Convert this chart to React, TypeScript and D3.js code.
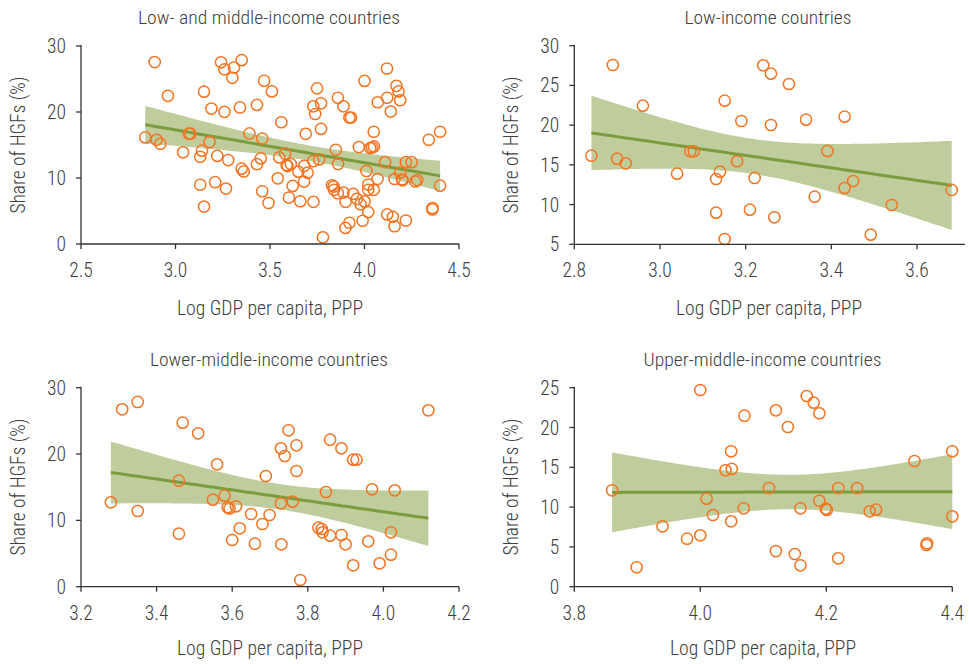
import React from "react";
import * as d3 from "d3";

type Pt = [number, number];

// Low-income countries: [log GDP per capita PPP, share of HGFs %]
const lowIncome: Pt[] = [
  [2.84, 16.15], [2.89, 27.57], [2.9, 15.78], [2.92, 15.19], [2.96, 22.45],
  [3.04, 13.89], [3.071, 16.71], [3.079, 16.71], [3.131, 13.22], [3.14, 14.14],
  [3.131, 8.98], [3.151, 23.08], [3.151, 5.67], [3.18, 15.45], [3.19, 20.52],
  [3.21, 9.36], [3.221, 13.35], [3.241, 27.53], [3.259, 26.48], [3.259, 20.02],
  [3.267, 8.4], [3.301, 25.18], [3.341, 20.69], [3.361, 10.99], [3.391, 16.75],
  [3.431, 21.07], [3.431, 12.09], [3.451, 12.97], [3.492, 6.21], [3.541, 9.95],
  [3.681, 11.84],
];

// Lower-middle-income countries
const lowerMiddle: Pt[] = [
  [3.279, 12.72], [3.309, 26.74], [3.35, 27.85], [3.35, 11.41], [3.459, 15.98],
  [3.459, 7.99], [3.469, 24.73], [3.51, 23.12], [3.56, 18.45], [3.549, 13.12],
  [3.58, 13.72], [3.588, 11.95], [3.593, 11.8], [3.61, 12.12], [3.65, 10.96],
  [3.68, 9.45], [3.699, 10.81], [3.62, 8.8], [3.6, 7.04], [3.66, 6.48],
  [3.689, 16.69], [4.119, 26.59], [3.749, 23.58], [3.729, 20.86], [3.739, 19.7],
  [3.77, 21.32], [3.859, 22.16], [3.889, 20.86], [3.92, 19.15], [3.929, 19.15],
  [3.77, 17.44], [3.848, 14.28], [3.97, 14.68], [4.03, 14.53], [3.729, 12.57],
  [3.76, 12.82], [3.828, 8.9], [3.837, 8.7], [3.839, 8.2], [3.859, 7.69],
  [3.889, 7.79], [3.9, 6.39], [3.96, 6.84], [4.02, 8.2], [4.02, 4.83],
  [3.99, 3.52], [3.92, 3.22], [3.73, 6.39], [3.78, 1.01],
];

// Upper-middle-income countries
const upperMiddle: Pt[] = [
  [4.0, 24.71], [4.07, 21.48], [4.049, 17.01], [4.04, 14.62], [4.05, 14.79],
  [3.86, 12.11], [4.01, 11.06], [4.069, 9.85], [4.02, 9.01], [4.049, 8.21],
  [3.94, 7.59], [3.979, 6.03], [4.0, 6.45], [3.899, 2.44], [4.169, 23.96],
  [4.18, 23.12], [4.189, 21.78], [4.12, 22.16], [4.139, 20.06], [4.109, 12.4],
  [4.219, 12.4], [4.249, 12.4], [4.34, 15.79], [4.4, 17.01], [4.4, 8.84],
  [4.189, 10.8], [4.159, 9.85], [4.199, 9.8], [4.201, 9.65], [4.269, 9.47],
  [4.279, 9.68], [4.36, 5.45], [4.359, 5.24], [4.12, 4.48], [4.15, 4.11],
  [4.159, 2.69], [4.219, 3.56],
];

const titles = [
  "Low- and middle-income countries",
  "Low-income countries",
  "Lower-middle-income countries",
  "Upper-middle-income countries",
];
const xTicks1 = [2.5, 3.0, 3.5, 4.0, 4.5];
const xTicks2 = [2.8, 3.0, 3.2, 3.4, 3.6];
const xTicks3 = [3.2, 3.4, 3.6, 3.8, 4.0, 4.2];
const xTicks4 = [3.8, 4.0, 4.2, 4.4];
const yTicks1 = [0, 10, 20, 30];
const yTicks2 = [5, 10, 15, 20, 25, 30];
const yTicks3 = [0, 10, 20, 30];
const yTicks4 = [0, 5, 10, 15, 20, 25];
const xLabel = "Log GDP per capita, PPP";
const yLabel = "Share of HGFs (%)";

const ORANGE = "#f47421";
const BAND = "#bfcd9d";
const LINE = "#7c9c3c";
const TEXT = "#404040";
const FONT = "'Roboto Condensed', 'Liberation Sans Narrow', Roboto, sans-serif";

function tQuantile975(df: number) {
  const z = 1.959964;
  return (
    z +
    (z ** 3 + z) / (4 * df) +
    (5 * z ** 5 + 16 * z ** 3 + 3 * z) / (96 * df * df) +
    (3 * z ** 7 + 19 * z ** 5 + 17 * z ** 3 - 15 * z) / (384 * df ** 3)
  );
}

function regression(pts: Pt[]) {
  const n = pts.length;
  const mx = d3.mean(pts, (p) => p[0])!;
  const my = d3.mean(pts, (p) => p[1])!;
  let sxx = 0, sxy = 0;
  pts.forEach(([x, y]) => {
    sxx += (x - mx) ** 2;
    sxy += (x - mx) * (y - my);
  });
  const b = sxy / sxx;
  const a = my - b * mx;
  let sse = 0;
  pts.forEach(([x, y]) => (sse += (y - (a + b * x)) ** 2));
  const s = Math.sqrt(sse / (n - 2));
  const t = tQuantile975(n - 2);
  const [x0, x1] = d3.extent(pts, (p) => p[0]) as [number, number];
  const grid = d3.range(0, 101).map((i) => x0 + ((x1 - x0) * i) / 100);
  return grid.map((x) => {
    const yh = a + b * x;
    const se = s * Math.sqrt(1 / n + (x - mx) ** 2 / sxx);
    return { x, y: yh, lo: yh - t * se, hi: yh + t * se };
  });
}

interface PanelCfg {
  title: string;
  data: Pt[];
  xDomain: [number, number];
  yDomain: [number, number];
  xTicks: number[];
  yTicks: number[];
  left: number;
  right: number;
  top: number;
  bottom: number;
  titleX: number;
  titleY: number;
  titleW: number;
  xLabX: number;
  xLabY: number;
  yLabX: number;
  yLabY: number;
}

const panels: PanelCfg[] = [
  {
    title: titles[0], data: [...lowIncome, ...lowerMiddle, ...upperMiddle],
    xDomain: [2.5, 4.5], yDomain: [0, 30], xTicks: xTicks1, yTicks: yTicks1,
    left: 81, right: 459, top: 46, bottom: 244,
    titleX: 269, titleY: 24, titleW: 262, xLabX: 270, xLabY: 315, yLabX: 25, yLabY: 145,
  },
  {
    title: titles[1], data: lowIncome,
    xDomain: [2.8, 3.712], yDomain: [5, 30], xTicks: xTicks2, yTicks: yTicks2,
    left: 574.3, right: 965, top: 45.7, bottom: 244.3,
    titleX: 768, titleY: 24, titleW: 167, xLabX: 769, xLabY: 315, yLabX: 518, yLabY: 145,
  },
  {
    title: titles[2], data: lowerMiddle,
    xDomain: [3.2, 4.2], yDomain: [0, 30], xTicks: xTicks3, yTicks: yTicks3,
    left: 81, right: 459, top: 387.7, bottom: 586.7,
    titleX: 269, titleY: 366, titleW: 238, xLabX: 270, xLabY: 655, yLabX: 25, yLabY: 487,
  },
  {
    title: titles[3], data: upperMiddle,
    xDomain: [3.8, 4.4], yDomain: [0, 25], xTicks: xTicks4, yTicks: yTicks4,
    left: 574.3, right: 952.3, top: 387.7, bottom: 586.7,
    titleX: 762.5, titleY: 366, titleW: 238, xLabX: 763, xLabY: 655, yLabX: 518, yLabY: 487,
  },
];

function Panel({ cfg }: { cfg: PanelCfg }) {
  const x = d3.scaleLinear().domain(cfg.xDomain).range([cfg.left, cfg.right]);
  const y = d3.scaleLinear().domain(cfg.yDomain).range([cfg.bottom, cfg.top]);
  const fit = regression(cfg.data);
  const area = d3
    .area<{ x: number; lo: number; hi: number }>()
    .x((d) => x(d.x))
    .y0((d) => y(d.lo))
    .y1((d) => y(d.hi));
  const line = d3
    .line<{ x: number; y: number }>()
    .x((d) => x(d.x))
    .y((d) => y(d.y));
  return (
    <g>
      <text
        x={cfg.titleX}
        y={cfg.titleY}
        textAnchor="middle"
        fontSize={18}
        fill={TEXT}
        textLength={cfg.titleW}
        lengthAdjust="spacingAndGlyphs"
      >
        {cfg.title}
      </text>
      <path d={area(fit) || ""} fill={BAND} />
      <path d={line(fit) || ""} fill="none" stroke={LINE} strokeWidth={3} />
      {cfg.data.map((p, i) => (
        <circle
          key={i}
          cx={x(p[0])}
          cy={y(p[1])}
          r={5.6}
          fill="none"
          stroke={ORANGE}
          strokeWidth={1.5}
        />
      ))}
      {/* axes */}
      <line x1={cfg.left} x2={cfg.left} y1={cfg.top - 1} y2={cfg.bottom} stroke="#333" strokeWidth={1.3} />
      <line x1={cfg.left} x2={cfg.right} y1={cfg.bottom} y2={cfg.bottom} stroke="#333" strokeWidth={1.3} />
      {cfg.yTicks.map((t) => (
        <g key={"y" + t}>
          <line x1={cfg.left - 5} x2={cfg.left} y1={y(t)} y2={y(t)} stroke="#333" strokeWidth={1.3} />
          <text x={cfg.left - 15} y={y(t)} dy="0.36em" textAnchor="end" fontSize={19.5} fill={TEXT}>
            {d3.format("d")(t)}
          </text>
        </g>
      ))}
      {cfg.xTicks.map((t) => (
        <g key={"x" + t}>
          <line x1={x(t)} x2={x(t)} y1={cfg.bottom} y2={cfg.bottom + 5} stroke="#333" strokeWidth={1.3} />
          <text x={x(t)} y={cfg.bottom + 33} textAnchor="middle" fontSize={19.5} fill={TEXT}>
            {d3.format(".1f")(t)}
          </text>
        </g>
      ))}
      <text
        x={cfg.xLabX}
        y={cfg.xLabY}
        textAnchor="middle"
        fontSize={19.5}
        fill={TEXT}
        textLength={186}
        lengthAdjust="spacingAndGlyphs"
      >
        {xLabel}
      </text>
      <text
        transform={`translate(${cfg.yLabX},${cfg.yLabY}) rotate(-90)`}
        textAnchor="middle"
        fontSize={19.5}
        fill={TEXT}
        textLength={137}
        lengthAdjust="spacingAndGlyphs"
      >
        {yLabel}
      </text>
    </g>
  );
}

export default function App() {
  return (
    <svg
      width={969}
      height={664}
      viewBox="0 0 969 664"
      style={{ position: "absolute", left: 0, top: 0, background: "#fff" }}
      fontFamily={FONT}
      fontWeight={300}
    >
      <rect width={969} height={664} fill="#fff" />
      {panels.map((p, i) => (
        <Panel key={i} cfg={p} />
      ))}
    </svg>
  );
}
